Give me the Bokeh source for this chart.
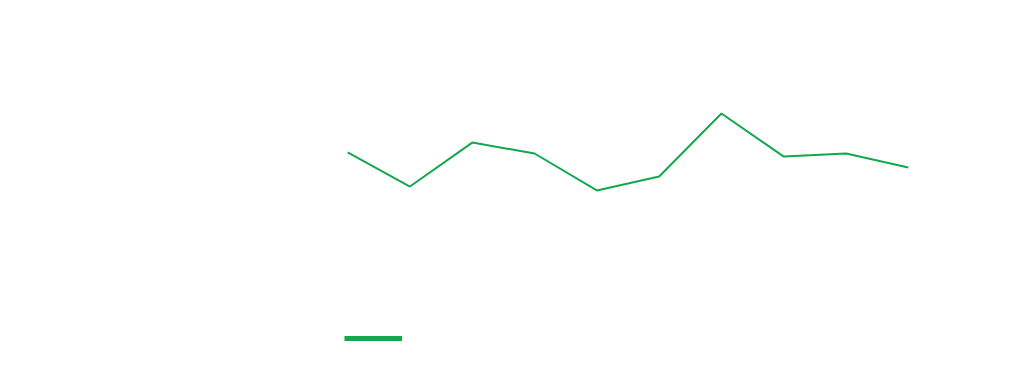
from bokeh.plotting import figure
from bokeh.models import Legend, LegendItem, Range1d, FactorRange, ColumnDataSource
from bokeh.embed import file_html
from bokeh.resources import INLINE

categories = ["1", "2", "3", "4", "5", "6", "7", "8", "9", "10"]
values = [52.9, 40.7, 56.4, 52.5, 39.3, 44.3, 66.8, 51.4, 52.5, 47.5]
series_name = "Series"

GREEN = "#13a84e"

p = figure(width=1024, height=376, x_range=FactorRange(*categories, range_padding=0),
           y_range=Range1d(-21.43, 100), output_backend="svg", toolbar_location=None,
           min_border_left=316, min_border_right=85, min_border_top=20, min_border_bottom=16)
p.xaxis.visible = False
p.yaxis.visible = False
p.grid.visible = False
p.outline_line_color = None
p.background_fill_color = "white"
p.border_fill_color = "white"

src = ColumnDataSource(dict(x=categories, y=values))
p.line("x", "y", source=src, line_color=GREEN, line_width=2)

dummy = p.line(x=[categories[0]], y=[float("nan")], line_color=GREEN, line_width=5)

legend = Legend(items=[LegendItem(label=series_name, renderers=[dummy])],
                location=(28, 12), padding=0, margin=0, glyph_width=58, glyph_height=20,
                label_text_color="white", background_fill_alpha=0, border_line_color=None)
p.add_layout(legend, "center")

open("out.html", "w").write(file_html(p, INLINE))
